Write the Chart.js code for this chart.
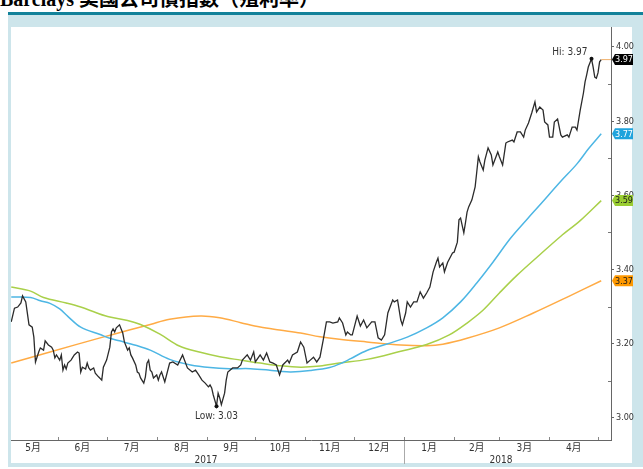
<!DOCTYPE html>
<html><head><meta charset="utf-8">
<script src="https://cdn.jsdelivr.net/npm/chart.js@4.4.1/dist/chart.umd.min.js"></script>
<style>
html,body{margin:0;padding:0;background:#fff;width:643px;height:469px;overflow:hidden;position:relative;}
#title{position:absolute;left:0;top:-11px;font:bold 20px 'Liberation Serif','Noto Sans CJK TC',serif;white-space:nowrap;color:#000;line-height:20px;}
#teal{position:absolute;left:8px;top:12px;width:635px;height:3px;background:#12829a;}
#card{position:absolute;left:8px;top:15px;width:635px;height:452px;background:#cde5eb;}
#panel{position:absolute;left:11px;top:27px;width:621px;height:436px;background:#fff;}
#wrap{position:absolute;left:0;top:0;width:643px;height:469px;}
</style></head><body>
<div id="title">Barclays 美國公司債指數（殖利率）</div>
<div id="teal"></div><div id="card"></div><div id="panel"></div>
<div id="wrap"><canvas id="c" width="643" height="469"></canvas></div>
<script>
// ---- DATA (x = days since 2017-05-01) ----
const monthLabels = ['5月','6月','7月','8月','9月','10月','11月','12月','1月','2月','3月','4月'];
const monthStartDays = [0,31,61,92,123,153,184,214,245,276,304,335,365];
const yearLabels = ['2017','2018'];
const yearSpanStart = [0,245];
const yearSpanEnd = [245,365];
const yTickValues = [3.0,3.1,3.2,3.3,3.4,3.5,3.6,3.7,3.8,3.9,4.0];
const yTickLabels = ['3.00','','3.20','','3.40','','3.60','','3.80','','4.00'];

const yieldDays = [
 2,4,6,8,9,11,13,15,16,17,
 19,20,22,23,25,27,28,29,30,32,
 33,34,35,36,37,39,41,43,44,45,
 46,48,49,50,51,53,54,56,58,59,
 61,63,64,65,66,67,69,70,71,72,
 74,75,76,77,79,80,81,82,84,85,
 86,87,88,89,90,92,93,94,95,97,
 100,102,105,108,111,114,116,118,120,122,
 124,125,126,127,129,130,131,132,134,135,
 136,139,142,144,145,148,150,152,153,156,
 158,160,162,164,166,168,170,173,174,176,
 179,181,183,185,187,189,191,193,195,197,
 199,201,204,205,207,209,210,212,213,216,
 218,220,222,225,227,229,231,233,235,238,
 239,241,243,244,246,247,249,251,253,255,
 257,259,261,263,265,266,267,269,270,272,
 275,276,278,279,280,282,283,284,285,287,
 289,290,291,292,294,295,297,299,300,303,
 304,306,308,309,312,313,315,317,319,320,
 322,324,326,327,329,331,332,334,335,337,
 338,340,342,343,346,347,349,351,352,354,
 356,357,358,359,361,362,363,364,365,366,
 367];
const yieldVals = [
 3.259,3.296,3.299,3.310,3.329,3.313,3.251,3.245,3.218,3.151,
 3.178,3.189,3.183,3.208,3.197,3.191,3.183,3.162,3.170,3.156,
 3.170,3.129,3.143,3.132,3.148,3.156,3.170,3.178,3.175,3.124,
 3.137,3.132,3.148,3.135,3.129,3.135,3.121,3.111,3.102,3.137,
 3.156,3.191,3.232,3.240,3.232,3.243,3.251,3.240,3.229,3.205,
 3.183,3.189,3.170,3.162,3.143,3.124,3.121,3.108,3.094,3.111,
 3.148,3.156,3.129,3.124,3.108,3.116,3.102,3.116,3.124,3.097,
 3.148,3.151,3.143,3.170,3.135,3.124,3.129,3.116,3.102,3.094,
 3.084,3.089,3.081,3.062,3.032,3.067,3.054,3.036,3.067,3.102,
 3.124,3.135,3.135,3.143,3.156,3.170,3.156,3.178,3.151,3.170,
 3.156,3.175,3.151,3.148,3.143,3.116,3.143,3.156,3.148,3.170,
 3.178,3.205,3.191,3.148,3.156,3.164,3.151,3.164,3.210,3.259,
 3.259,3.256,3.259,3.270,3.256,3.224,3.232,3.224,3.224,3.275,
 3.248,3.264,3.243,3.259,3.259,3.216,3.210,3.224,3.283,3.318,
 3.313,3.318,3.264,3.251,3.283,3.313,3.299,3.313,3.313,3.340,
 3.323,3.337,3.353,3.394,3.420,3.431,3.407,3.418,3.394,3.420,
 3.445,3.447,3.474,3.534,3.539,3.499,3.526,3.555,3.569,3.588,
 3.623,3.663,3.704,3.690,3.668,3.695,3.728,3.709,3.682,3.717,
 3.704,3.682,3.741,3.744,3.749,3.744,3.771,3.771,3.757,3.776,
 3.795,3.822,3.852,3.825,3.838,3.830,3.798,3.790,3.757,3.757,
 3.798,3.806,3.763,3.757,3.763,3.757,3.784,3.784,3.776,3.830,
 3.876,3.906,3.925,3.946,3.968,3.946,3.919,3.916,3.930,3.960,
 3.966];

const blueDays = [2,14,20,26,32,37,45,57,63,69,79,88,100,113,125,137,150,162,168,175,187,199,207,212,222,235,247,259,269,280,290,300,311,321,329,342,352,359,367];
const blueVals = [3.326,3.325,3.316,3.309,3.294,3.274,3.245,3.225,3.215,3.208,3.196,3.183,3.158,3.143,3.136,3.133,3.133,3.129,3.126,3.124,3.128,3.136,3.149,3.160,3.182,3.200,3.218,3.243,3.270,3.313,3.364,3.420,3.485,3.535,3.574,3.638,3.685,3.725,3.766];

const greenDays = [2,14,22,36,45,55,63,74,82,94,106,119,131,144,156,168,181,193,205,222,243,259,273,284,294,304,315,329,342,354,367];
const greenVals = [3.353,3.342,3.325,3.310,3.299,3.283,3.272,3.263,3.252,3.226,3.194,3.177,3.165,3.156,3.148,3.141,3.137,3.140,3.148,3.158,3.180,3.198,3.224,3.256,3.291,3.337,3.385,3.440,3.490,3.532,3.586];

const orangeDays = [2,26,57,75,88,100,119,131,144,156,168,181,193,205,222,243,259,269,284,304,325,346,367];
const orangeVals = [3.148,3.178,3.216,3.237,3.252,3.266,3.275,3.270,3.257,3.245,3.237,3.229,3.219,3.212,3.205,3.197,3.195,3.199,3.215,3.243,3.283,3.326,3.370];

// ---- STYLE ----
const FONT = "'Liberation Sans Narrow','DejaVu Sans Condensed','Liberation Sans','Noto Sans CJK TC',sans-serif";
const seriesStyle = [
  {color:'#2b2b2b', width:1.3, badge:'#000000', text:'#ffffff'},
  {color:'#4db6e4', width:1.5, badge:'#1fa3dc', text:'#ffffff'},
  {color:'#a9d04a', width:1.5, badge:'#9acd32', text:'#1a1a1a'},
  {color:'#ffab45', width:1.5, badge:'#ff9900', text:'#1a1a1a'}
];
const pts = (d,v)=>d.map((x,i)=>({x:x,y:v[i]}));

const decor = {
  id:'decor',
  afterDraw(chart){
    const {ctx, chartArea:a, scales:{x,y}} = chart;
    ctx.save();
    ctx.lineWidth = 1;
    ctx.strokeStyle = '#888';
    monthStartDays.forEach(d=>{
      const px = Math.round(x.getPixelForValue(d))+0.5;
      if (px < a.left || px > a.right) return;
      ctx.beginPath(); ctx.moveTo(px,a.bottom-3); ctx.lineTo(px,a.bottom); ctx.stroke();
    });
    const jx = Math.round(x.getPixelForValue(yearSpanStart[1]))+0.5;
    ctx.strokeStyle = '#aaa';
    ctx.beginPath(); ctx.moveTo(jx,a.bottom+1); ctx.lineTo(jx,a.bottom+24); ctx.stroke();
    ctx.fillStyle = '#333'; ctx.font = '10px '+FONT;
    ctx.textAlign = 'center'; ctx.textBaseline = 'middle';
    yearLabels.forEach((lab,i)=>{
      ctx.fillText(lab, x.getPixelForValue((yearSpanStart[i]+yearSpanEnd[i])/2), a.bottom+20);
    });
    ctx.strokeStyle = '#777';
    yTickValues.forEach((v,i)=>{
      if (yTickLabels[i]) return;
      const py = Math.round(y.getPixelForValue(v))+0.5;
      ctx.beginPath(); ctx.moveTo(a.right-3,py); ctx.lineTo(a.right,py); ctx.stroke();
    });
    let hi=0, lo=0;
    yieldVals.forEach((v,i)=>{ if(v>yieldVals[hi]) hi=i; if(v<yieldVals[lo]) lo=i; });
    const hx = x.getPixelForValue(yieldDays[hi]), hy = y.getPixelForValue(yieldVals[hi]);
    const lx = x.getPixelForValue(yieldDays[lo]), ly = y.getPixelForValue(yieldVals[lo]);
    ctx.fillStyle = '#111';
    ctx.beginPath(); ctx.arc(hx,hy,2,0,Math.PI*2); ctx.fill();
    ctx.beginPath(); ctx.arc(lx,ly,2,0,Math.PI*2); ctx.fill();
    ctx.fillStyle = '#333'; ctx.font = '10px '+FONT;
    ctx.textAlign = 'right'; ctx.textBaseline = 'middle';
    ctx.fillText('Hi: '+yieldVals[hi].toFixed(2), hx-4, hy-6);
    ctx.textAlign = 'center';
    ctx.fillText('Low: '+yieldVals[lo].toFixed(2), lx, ly+10);
    const lastX = x.getPixelForValue(yieldDays[yieldDays.length-1]);
    const lastY = y.getPixelForValue(yieldVals[yieldVals.length-1]);
    ctx.strokeStyle = '#f0b06a';
    ctx.beginPath(); ctx.moveTo(lastX,lastY); ctx.lineTo(a.right,lastY); ctx.stroke();
    const lasts = [yieldVals, blueVals, greenVals, orangeVals].map(v=>v[v.length-1]);
    ctx.font = '9px '+FONT; ctx.textAlign = 'left'; ctx.textBaseline = 'middle';
    lasts.forEach((v,i)=>{
      const py = y.getPixelForValue(v);
      const st = seriesStyle[i];
      ctx.fillStyle = st.badge;
      ctx.beginPath();
      ctx.moveTo(a.right+1, py);
      ctx.lineTo(a.right+4, py-5.5);
      ctx.lineTo(a.right+22, py-5.5);
      ctx.lineTo(a.right+22, py+5.5);
      ctx.lineTo(a.right+4, py+5.5);
      ctx.closePath(); ctx.fill();
      ctx.fillStyle = st.text;
      ctx.fillText(v.toFixed(2), a.right+4, py+0.5);
    });
    ctx.restore();
  }
};

new Chart(document.getElementById('c'), {
  type:'line',
  data:{ datasets:[
    {data:pts(yieldDays,yieldVals), borderColor:seriesStyle[0].color, borderWidth:seriesStyle[0].width, pointRadius:0, tension:0},
    {data:pts(blueDays,blueVals), borderColor:seriesStyle[1].color, borderWidth:seriesStyle[1].width, pointRadius:0, tension:0.35},
    {data:pts(greenDays,greenVals), borderColor:seriesStyle[2].color, borderWidth:seriesStyle[2].width, pointRadius:0, tension:0.35},
    {data:pts(orangeDays,orangeVals), borderColor:seriesStyle[3].color, borderWidth:seriesStyle[3].width, pointRadius:0, tension:0.35}
  ]},
  options:{
    responsive:false, animation:false, events:[],
    layout:{padding:{left:11, top:27, right:0, bottom:0}},
    plugins:{legend:{display:false}, tooltip:{enabled:false}},
    scales:{
      x:{
        type:'linear', position:'bottom', min:1.86, max:373.05,
        afterBuildTicks:s=>{ s.ticks = monthLabels.map((l,i)=>({value:(monthStartDays[i]+monthStartDays[i+1])/2})); },
        afterFit:s=>{ s.height = 29; },
        ticks:{autoSkip:false, maxRotation:0, padding:2, color:'#333', font:{size:10, family:FONT},
          callback:(v,i)=>monthLabels[i]},
        grid:{display:true, drawOnChartArea:false, drawTicks:false},
        border:{display:true, color:'#666', width:1}
      },
      y:{
        type:'linear', position:'right', min:2.9407, max:4.0539,
        afterBuildTicks:s=>{ s.ticks = yTickValues.map(v=>({value:v})); },
        afterFit:s=>{ s.width = 32; },
        ticks:{autoSkip:false, padding:2, color:'#333', font:{size:9, family:FONT},
          callback:(v,i)=>yTickLabels[i]},
        grid:{display:true, drawOnChartArea:false, drawTicks:true, tickLength:3,
          tickColor:c=> (yTickLabels[c.index] ? '#666' : 'rgba(0,0,0,0)'), color:'rgba(0,0,0,0)'},
        border:{display:true, color:'#666', width:1}
      }
    }
  },
  plugins:[decor]
});
</script>
</body></html>
